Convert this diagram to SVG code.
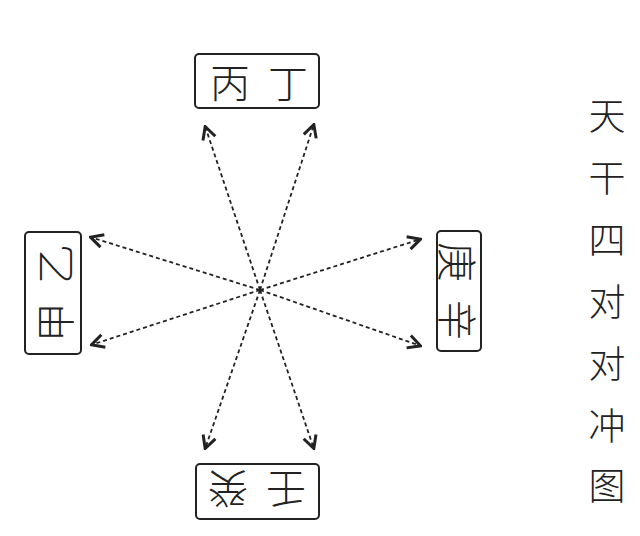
<svg xmlns="http://www.w3.org/2000/svg" width="640" height="536" viewBox="0 0 640 536">
<style>
.box{fill:#fff;stroke:#222;stroke-width:2}
.t{font-family:"Noto Sans CJK SC",sans-serif;font-size:40px;fill:#222;text-anchor:middle;dominant-baseline:central;font-weight:300}
.c{stroke:#222;stroke-width:1.8;stroke-dasharray:4 3;fill:none;marker-end:url(#a)}
.title{font-family:"Noto Sans CJK SC",sans-serif;font-size:37px;fill:#222;text-anchor:middle;font-weight:300}
</style>
<defs>
<marker id="a" viewBox="0 0 16 16" refX="15" refY="8" markerWidth="16" markerHeight="16" markerUnits="userSpaceOnUse" orient="auto">
<path d="M2,1.5 L14.5,8 L2,14.5" fill="none" stroke="#222" stroke-width="3"/>
</marker>
</defs>
<rect width="640" height="536" fill="#fff"/>
<g id="connectors">
<line class="c" x1="260" y1="290" x2="205" y2="126"/>
<line class="c" x1="260" y1="290" x2="314" y2="124"/>
<line class="c" x1="260" y1="290" x2="90" y2="237"/>
<line class="c" x1="260" y1="290" x2="91" y2="345"/>
<line class="c" x1="260" y1="290" x2="421" y2="239"/>
<line class="c" x1="260" y1="290" x2="421" y2="346"/>
<line class="c" x1="260" y1="290" x2="205" y2="449"/>
<line class="c" x1="260" y1="290" x2="314" y2="449"/>
</g>
<g id="top"><rect class="box" x="195" y="54" width="124" height="54" rx="4"/><text class="t" x="230" y="81">丙</text><text class="t" x="288" y="81">丁</text></g>
<g id="left"><rect class="box" x="25" y="232" width="56" height="122" rx="4"/><text class="t" transform="translate(53,322) rotate(-90)">甲</text><text class="t" transform="translate(53,264) rotate(-90)">乙</text></g>
<g id="right"><rect class="box" x="437" y="231" width="44" height="120" rx="4"/><text class="t" transform="translate(459,262) rotate(90)">庚</text><text class="t" transform="translate(459,320) rotate(90)">辛</text></g>
<g id="bottom"><rect class="box" x="196" y="464" width="123" height="55" rx="4"/><text class="t" transform="translate(286,491) rotate(180)">壬</text><text class="t" transform="translate(228,491) rotate(180)">癸</text></g>
<g id="title">
<text class="title" x="607" y="130">天</text>
<text class="title" x="607" y="192">干</text>
<text class="title" x="607" y="254">四</text>
<text class="title" x="607" y="316">对</text>
<text class="title" x="607" y="378">对</text>
<text class="title" x="607" y="440">冲</text>
<text class="title" x="607" y="500">图</text>
</g>
</svg>
